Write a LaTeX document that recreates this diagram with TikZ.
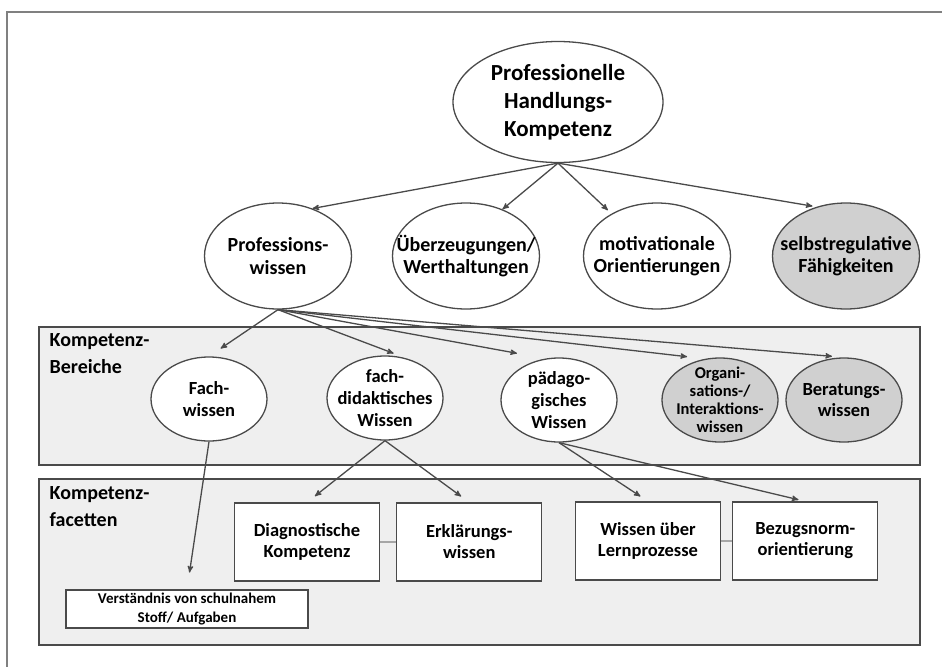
\documentclass[tikz,border=0pt]{standalone}
\usepackage{fontspec}
\setmainfont{Carlito}
\usetikzlibrary{arrows,shapes.geometric,positioning}

\definecolor{linegray}{HTML}{4A4A4A}
\definecolor{panelgray}{HTML}{EFEFEF}
\definecolor{darkfill}{HTML}{D0D0D0}
\definecolor{framegray}{HTML}{808080}

\begin{document}
\begin{tikzpicture}[x=1pt,y=-1pt,>=stealth',line width=1.3pt,node distance=16pt,
    every edge/.style={draw=linegray,->},
    ell/.style={ellipse,draw=linegray,fill=white,inner sep=0pt,minimum width=147pt,minimum height=106pt},
    smallell/.style={ell,minimum width=116pt,minimum height=84pt},
    facet/.style={rectangle,draw=linegray,fill=white,align=center,minimum width=145pt,minimum height=78pt,
                  font=\bfseries\fontsize{18.5}{21}\selectfont},
    panel/.style={draw=linegray,fill=panelgray,line width=1.6pt},
    toptext/.style={align=center,font=\bfseries\fontsize{23}{28}\selectfont},
    midtext/.style={align=center,font=\bfseries\fontsize{20}{22.5}\selectfont},
    lowtext/.style={align=center,font=\bfseries\fontsize{18.5}{21.7}\selectfont},
    tinytext/.style={align=center,font=\bfseries\fontsize{16.5}{18}\selectfont},
    paneltext/.style={align=left,anchor=north west,inner sep=0pt,font=\bfseries\fontsize{20}{26.7}\selectfont}]

  \useasboundingbox (0,0) rectangle (942,667);
  \draw[framegray,line width=1.5pt] (942,12) -- (7,12) -- (7,667);

  % panels
  \draw[panel] (39,327) rectangle (920,465);
  \draw[panel] (39,479) rectangle (920,645);
  \node[paneltext] (bereiche) at (49,333) {Kompetenz-\\Bereiche};
  \node[paneltext] (facetten) at (49,486) {Kompetenz-\\facetten};

  % top
  \node[ell,minimum width=210pt,minimum height=121pt] (top) at (558,102) {};
  \node[toptext] (toptxt) at (top) {Professionelle\\Handlungs-\\Kompetenz};

  % second row
  \node[ell] (pw) at (278,256) {};
  \node[ell] (ue) at (466,256) {};
  \node[ell] (mo) at (657,256) {};
  \node[ell,fill=darkfill] (sr) at (846,256) {};
  \node[midtext] (pwtxt) at (pw) {Professions-\\wissen};
  \node[midtext] (uetxt) at (ue) {Überzeugungen/\\Werthaltungen};
  \node[midtext] (motxt) at (mo) {motivationale\\Orientierungen};
  \node[midtext] (srtxt) at (sr) {selbstregulative\\Fähigkeiten};

  % Kompetenz-Bereiche
  \node[smallell] (fw) at (209,399) {};
  \node[smallell] (fd) at (385,398) {};
  \node[smallell] (pd) at (559,400) {};
  \node[smallell,fill=darkfill] (oi) at (720,400) {};
  \node[smallell,fill=darkfill] (bw) at (844,400) {};
  \node[lowtext] (fwtxt) at (fw) {Fach-\\wissen};
  \node[lowtext] (fdtxt) at (fd) {fach-\\didaktisches\\Wissen};
  \node[lowtext] (pdtxt) at (pd) {pädago-\\gisches\\Wissen};
  \node[tinytext] (oitxt) at (oi) {Organi-\\sations-/\\Interaktions-\\wissen};
  \node[lowtext] (bwtxt) at (bw) {Beratungs-\\wissen};

  % Kompetenz-Facetten
  \node[facet] (dk) at (307,542) {Diagnostische\\Kompetenz};
  \node[facet] (ew) [right=of dk] {Erklärungs-\\wissen};
  \node[facet] (wl) at (648,541) {Wissen über\\Lernprozesse};
  \node[facet] (bn) [right=11pt of wl] {Bezugsnorm-\\orientierung};
  \node[facet,minimum width=242pt,minimum height=38pt,inner sep=1pt,
        font=\bfseries\fontsize{15}{19}\selectfont] (vs) at (187,609) {Verständnis von schulnahem\\Stoff/ Aufgaben};

  \draw[black!35,line width=1.5pt] (dk) -- (ew);
  \draw[black!35,line width=1.5pt] (wl) -- (bn);

  \path (top.south) edge (pw.54)
                    edge (ue.52)
                    edge[shorten >=5pt] (mo.137)
                    edge[shorten >=4pt] (sr.121);

  \path (pw.south) edge[shorten >=14pt] (fw.north)
                   edge[shorten >=15pt] (fd.60)
                   edge[shorten >=29pt] (pd.108)
                   edge[shorten >=18pt] (oi.110)
                   edge[shorten >=12pt] (bw.north);

  \path (fw.south) edge[shorten >=17pt] (vs.north);
  \path (fd.south) edge[shorten >=10pt] (dk.north)
                   edge[shorten >=10pt] (ew.north);
  \path (pd.south) edge[shorten >=9pt] (wl.north)
                   edge[shorten >=7pt] (bn.north);

\end{tikzpicture}
\end{document}
